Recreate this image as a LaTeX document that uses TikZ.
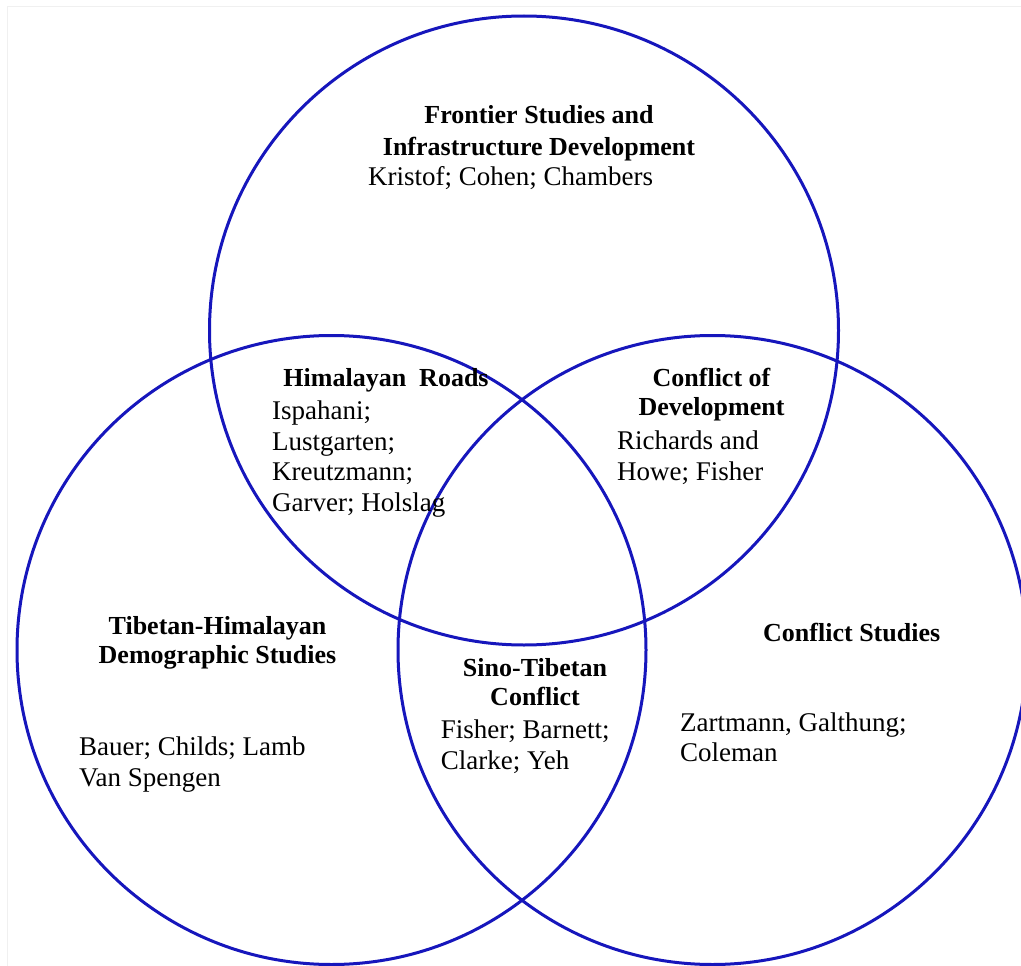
\documentclass[tikz,border=0pt]{standalone}
\usepackage{fontspec}
\setmainfont{Liberation Serif}
\definecolor{venn}{RGB}{22,22,188}
\tikzset{
  ring/.style={draw=venn, line width=3pt},
  head/.style={inner sep=0pt, anchor=base, align=center, font=\bfseries\fontsize{26}{29}\selectfont},
  body/.style={inner sep=0pt, anchor=base west, align=left, font=\fontsize{27}{30.5}\selectfont},
}
\begin{document}
\begin{tikzpicture}[x=1pt,y=-1pt]
\useasboundingbox (0,0) rectangle (1021,966);
\fill[white] (0,0) rectangle (1021,966);
\draw[black!6, line width=1pt] (7,966) -- (7,7) -- (1021,7);
\begin{scope}
\clip (0,0) rectangle (1021,966);
\draw[ring] (524,330.5) circle[radius=314.5];
\draw[ring] (331.5,650) circle[radius=314.5];
\draw[ring] (712.5,650) circle[radius=314.5];
\end{scope}
% top circle
\node[head] (fsh) at (539,155) {Frontier Studies and\\[2.7pt]Infrastructure Development};
\node[body] (fsb) at (368,185) {Kristof; Cohen; Chambers};
% top-left overlap
\node[head] (hrh) at (386,386.7) {Himalayan\ \ Roads};
\node[body] (hrb) at (272,511) {Ispahani;\\Lustgarten;\\Kreutzmann;\\Garver; Holslag};
% top-right overlap
\node[head] (cdh) at (711.5,415) {Conflict of\\Development};
\node[body] (cdb) at (617,480) {Richards and\\Howe; Fisher};
% left circle
\node[head] (thh) at (217.5,663) {Tibetan-Himalayan\\Demographic Studies};
\node[body] (thb) at (79,786) {Bauer; Childs; Lamb\\Van Spengen};
% centre
\node[head] (sth) at (535,705) {Sino-Tibetan\\Conflict};
\node[body] (stb) at (440.7,769) {Fisher; Barnett;\\Clarke; Yeh};
% right circle
\node[head] (csh) at (851.7,641.7) {Conflict Studies};
\node[body] (csb) at (680,761.7) {Zartmann, Galthung;\\Coleman};
\end{tikzpicture}
\end{document}
